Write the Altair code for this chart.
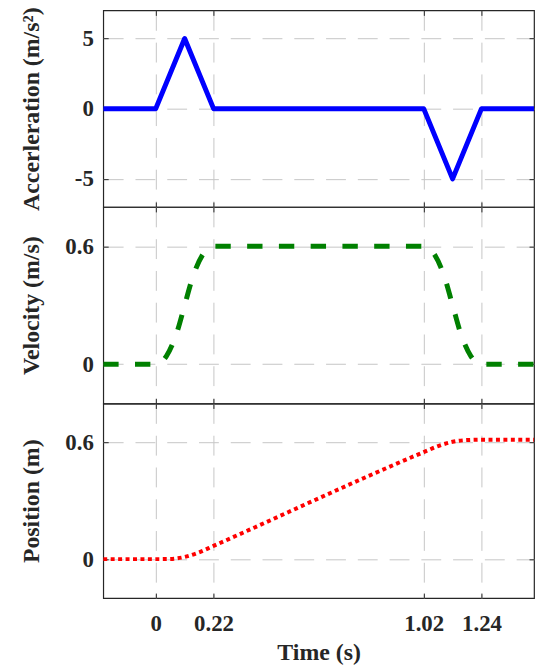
import altair as alt
import pandas as pd

# ---- data ----
t_acc = [-0.2, 0.0, 0.11, 0.22, 1.02, 1.13, 1.24, 1.44]
acc = [0, 0, 5, 0, 0, -5, 0, 0]

t_vel = [-0.2, 0.0, 0.04, 0.08, 0.11, 0.14, 0.18, 0.22,
         1.02, 1.06, 1.10, 1.13, 1.16, 1.20, 1.24, 1.44]
vel = [0, 0, 0.04, 0.16, 0.30, 0.44, 0.56, 0.60,
       0.60, 0.56, 0.44, 0.30, 0.16, 0.04, 0, 0]

t_pos = [-0.2, 0.0, 0.055, 0.11, 0.165, 0.22, 1.02, 1.075, 1.13, 1.185, 1.24, 1.44]
pos = [0, 0, 0.001, 0.011, 0.035, 0.068, 0.550, 0.581, 0.603, 0.612, 0.614, 0.614]

x_ticks = [0, 0.22, 1.02, 1.24]
acc_ticks = [-5, 0, 5]
vel_ticks = [0, 0.6]
pos_ticks = [0, 0.6]

FONT = "Liberation Serif"
TXT = "#262626"
GRID = "#c6c6c6"
W = 434
XDOM = [-0.2, 1.44]


def panel(df, ytitle, ydomain, yticks, color, sw, height, dash=None,
          interp="linear", last=False):
    xscale = alt.Scale(domain=XDOM, nice=False, zero=False)
    yscale = alt.Scale(domain=ydomain, nice=False, zero=False)
    x_axis_kw = dict(values=x_ticks, orient="bottom", offset=-5, tickSize=5,
                     domain=False, grid=True, gridDash=[20, 12], gridColor=GRID,
                     gridWidth=1, tickColor=TXT, tickWidth=1,
                     labelExpr="'' + datum.value", labelFont=FONT,
                     labelFontSize=23, labelFontWeight="bold", labelColor=TXT,
                     labelPadding=15, labelFlush=False, labelOverlap=False,
                     labelBaseline="top",
                     titleFont=FONT, titleFontSize=24, titleFontWeight="bold",
                     titleColor=TXT, titlePadding=5)
    if last:
        x_axis = alt.Axis(labels=True, title="Time (s)", **x_axis_kw)
    else:
        x_axis = alt.Axis(labels=False, title=None, **x_axis_kw)
    y_axis = alt.Axis(values=yticks, orient="left", offset=-5, tickSize=5,
                      domain=False, grid=True, gridDash=[20, 12], gridColor=GRID,
                      gridWidth=1, tickColor=TXT, tickWidth=1,
                      labelExpr="'' + datum.value", labelFont=FONT,
                      labelFontSize=23, labelFontWeight="bold", labelColor=TXT,
                      labelPadding=10, labelFlush=False, labelOverlap=False,
                      title=ytitle, titleFont=FONT, titleFontSize=24,
                      titleFontWeight="bold", titleColor=TXT, titleAngle=270,
                      titleX=-70, titleBaseline="alphabetic", titleAlign="center")
    mark_kw = dict(color=color, strokeWidth=sw, interpolate=interp,
                   strokeJoin="round", clip=True)
    if dash is not None:
        mark_kw["strokeDash"] = dash
    line = alt.Chart(df).mark_line(**mark_kw).encode(
        x=alt.X("t:Q", scale=xscale, axis=x_axis),
        y=alt.Y("v:Q", scale=yscale, axis=y_axis),
    )
    ticks2 = alt.Chart(df).mark_line(strokeOpacity=0).encode(
        x=alt.X("t:Q", scale=xscale,
                axis=alt.Axis(values=x_ticks, orient="top", offset=-5, tickSize=5,
                              domain=False, grid=False, labels=False, title=None,
                              tickColor=TXT, tickWidth=1)),
        y=alt.Y("v:Q", scale=yscale,
                axis=alt.Axis(values=yticks, orient="right", offset=-5, tickSize=5,
                              domain=False, grid=False, labels=False, title=None,
                              tickColor=TXT, tickWidth=1)),
    )
    return alt.layer(line, ticks2).resolve_axis(x="independent", y="independent").properties(
        width=W, height=height)


df_acc = pd.DataFrame({"t": t_acc, "v": acc})
df_vel = pd.DataFrame({"t": t_vel, "v": vel})
df_pos = pd.DataFrame({"t": t_pos, "v": pos})

p1 = panel(df_acc, "Accerleration (m/s²)", [-7, 7], acc_ticks, "#0000ff", 5, 198)
p2 = panel(df_vel, "Velocity (m/s)", [-0.2, 0.8], vel_ticks, "#008000", 5, 198,
           dash=[15.5, 16.5], interp="monotone")
p3 = panel(df_pos, "Position (m)", [-0.2, 0.8], pos_ticks, "#ff0000", 4, 196,
           dash=[4, 3.5], interp="monotone", last=True)

chart = alt.vconcat(p1, p2, p3, spacing=0, bounds="flush").properties(
    padding={"left": 19, "top": 3, "right": 1, "bottom": 0},
    background="white",
).configure_view(stroke=TXT, strokeWidth=1.2)

chart.save("out.html", embed_options={"renderer": "svg", "actions": False})
